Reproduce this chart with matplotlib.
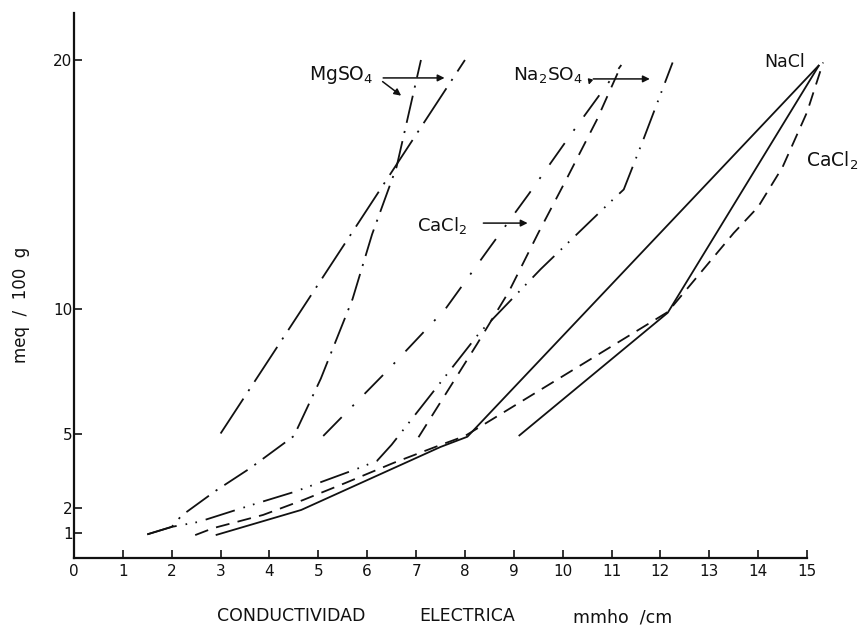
import matplotlib
matplotlib.use("Agg")
import matplotlib.pyplot as plt

plt.rcParams['lines.scale_dashes'] = False
plt.rcParams['font.family'] = ['DejaVu Sans']

# ---- data ----
x_ticks = list(range(0, 16))
y_ticks = [1, 2, 5, 10, 20]

# MgSO4, straight long dash-dot
mgso4_a_x = [3.0, 8.0]
mgso4_a_y = [5.0, 20.0]
# MgSO4, dash-dot, bends at ~4.5
mgso4_b_x = [1.5, 2.0, 2.2, 2.9, 3.6, 4.5, 5.05, 5.7, 6.1, 6.6, 7.1]
mgso4_b_y = [0.95, 1.25, 1.7, 2.7, 3.6, 4.9, 7.2, 10.4, 13.0, 15.7, 20.0]
# Na2SO4, long dash-dot
na2so4_a_x = [5.1, 6.4, 7.6, 8.5, 9.3, 10.2, 11.2]
na2so4_a_y = [4.9, 7.5, 10.0, 12.45, 14.6, 17.1, 19.8]
# Na2SO4, dash-dot-dot
na2so4_b_x = [1.5, 2.0, 2.55, 3.75, 4.5, 5.75, 6.2, 6.5, 8.3, 9.55, 10.95, 11.25, 11.65, 12.25]
na2so4_b_y = [0.95, 1.25, 1.45, 2.2, 2.65, 3.55, 3.9, 4.55, 9.05, 11.6, 14.25, 14.8, 16.8, 19.9]
# CaCl2 (middle), dashed
cacl2_mid_x = [7.05, 8.25, 8.9, 9.5, 10.1, 10.7, 11.2]
cacl2_mid_y = [4.85, 8.6, 10.7, 13.05, 15.3, 17.6, 19.8]
# NaCl, solid (two branches)
nacl_a_x = [2.9, 4.65, 7.5, 8.05, 15.25]
nacl_a_y = [0.92, 1.93, 4.46, 4.87, 19.8]
nacl_b_x = [9.1, 12.15, 15.25]
nacl_b_y = [4.9, 9.85, 19.8]
# CaCl2 (right), dashed
cacl2_r_x = [2.48, 2.85, 3.87, 4.69, 5.55, 6.54, 7.5, 8.0, 12.15, 13.5, 14.0, 14.5, 15.0, 15.33]
cacl2_r_y = [0.92, 1.2, 1.73, 2.33, 3.01, 3.82, 4.54, 4.9, 9.88, 13.05, 14.1, 15.7, 17.9, 19.9]

W, H = 865, 627
fig = plt.figure(figsize=(W / 100, H / 100), dpi=100)
ax = fig.add_axes([74 / W, (H - 558) / H, (860 - 74) / W, (558 - 5) / H])
ax.set_xlim(0, 15 + (860 - 807) / 48.87)
ax.set_ylim(0, (558 - 5) / 24.9)

ink = '#111111'
lw = 1.3
kw = dict(color=ink, lw=lw, clip_on=False, solid_capstyle='butt', dash_capstyle='butt')
ax.plot(mgso4_a_x, mgso4_a_y, dashes=(30, 6.5, 1.5, 6.5), **kw)
ax.plot(mgso4_b_x, mgso4_b_y, dashes=(20, 6, 1.5, 6), **kw)
ax.plot(na2so4_a_x, na2so4_a_y, dashes=(19, 11, 1.5, 11), **kw)
ax.plot(na2so4_b_x, na2so4_b_y, dashes=(22, 6.5, 1.2, 6, 1.2, 6.5), **kw)
ax.plot(cacl2_mid_x, cacl2_mid_y, dashes=(11, 7), **kw)
ax.plot(nacl_a_x, nacl_a_y, **kw)
ax.plot(nacl_b_x, nacl_b_y, **kw)
ax.plot(cacl2_r_x, cacl2_r_y, dashes=(10, 6), **kw)

# axes styling
for s in ['top', 'right']:
    ax.spines[s].set_visible(False)
ax.spines['bottom'].set_bounds(0, 15)
ax.spines['left'].set_bounds(0, 21.9)
for s in ['bottom', 'left']:
    ax.spines[s].set_linewidth(1.6)
    ax.spines[s].set_color(ink)
ax.set_xticks(x_ticks)
ax.set_xticklabels([str(v) for v in x_ticks])
ax.set_yticks(y_ticks)
ax.set_yticklabels([str(v) for v in y_ticks])
ax.tick_params(axis='x', direction='in', length=6, width=1.2, pad=4, labelsize=11, colors=ink)
ax.tick_params(axis='y', direction='in', length=6, width=1.2, pad=1, labelsize=11, colors=ink)

# labels
def ftext(px, py, s, **k):
    fig.text(px / W, 1 - py / H, s, color=ink, **k)

ftext(21, 305, 'meq  /  100  g', rotation=90, ha='center', va='center', fontsize=12)
ftext(291, 616, 'CONDUCTIVIDAD', ha='center', va='center', fontsize=12.5)
ftext(467, 616, 'ELECTRICA', ha='center', va='center', fontsize=12.5)
ftext(623, 618, 'mmho  /cm', ha='center', va='center', fontsize=12.5)

arrow = dict(arrowstyle='-|>', color=ink, lw=1.1, mutation_scale=10)

ax.text(4.8, 19.4, 'MgSO$_4$', ha='left', va='center', fontsize=13.5, color=ink)
ax.annotate('', xy=(7.64, 19.28), xytext=(6.27, 19.28), arrowprops=arrow, annotation_clip=False)
ax.annotate('', xy=(6.74, 18.5), xytext=(6.27, 19.2), arrowprops=arrow, annotation_clip=False)

ax.text(8.98, 19.4, 'Na$_2$SO$_4$', ha='left', va='center', fontsize=13.3, color=ink)
ax.annotate('', xy=(11.84, 19.24), xytext=(10.57, 19.24), arrowprops=arrow, annotation_clip=False)
ax.annotate('', xy=(10.52, 18.9), xytext=(10.57, 19.24),
            arrowprops=dict(arrowstyle='-|>', color=ink, lw=1.0, mutation_scale=7), annotation_clip=False)

ax.text(14.55, 19.9, 'NaCl', ha='center', va='center', fontsize=12.5, color=ink)
ax.text(14.98, 15.95, 'CaCl$_2$', ha='left', va='center', fontsize=13.5, color=ink)

ax.text(7.02, 13.37, 'CaCl$_2$', ha='left', va='center', fontsize=13, color=ink)
ax.annotate('', xy=(9.34, 13.45), xytext=(8.32, 13.45), arrowprops=arrow, annotation_clip=False)

fig.savefig('out.png', dpi=100)
